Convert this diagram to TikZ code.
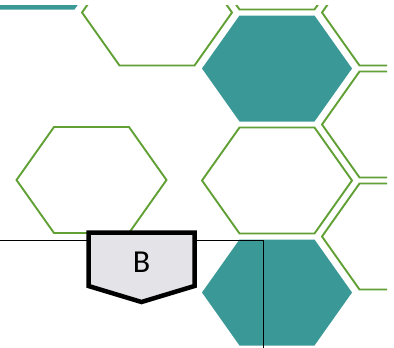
\documentclass[tikz,border=0pt]{standalone}
\usepackage{fontspec}
\setmainfont{Carlito}
\usepackage{tikz}
\usetikzlibrary{positioning}
\definecolor{cellteal}{RGB}{58,152,150}
\definecolor{cellgreen}{RGB}{96,160,52}
\definecolor{taggray}{RGB}{228,228,232}

\begin{document}
\begin{tikzpicture}[
    x=1pt,y=-1pt,
    hexcell/.style={draw=cellgreen,line width=1.9pt,line join=miter},
    hexfill/.style={fill=cellteal},
    ruleline/.style={black,line width=0.8pt},
    tagbox/.style={draw=black,fill=taggray,line width=4.5pt,line join=miter},
    tagtext/.style={font=\fontsize{32}{32}\selectfont,inner sep=0pt},
  ]
  \useasboundingbox (0,0) rectangle (394,348);
  \begin{scope}
    \clip (0,5) rectangle (387,348);
    % teal cells
    \foreach \cx/\cy in {37/-43.5,277/68.5,277/292.5}
      \fill[hexfill] (\cx,\cy) ++(-75,0) -- ++(37.5,-53) -- ++(75,0)
        -- ++(37.5,53) -- ++(-37.5,53) -- ++(-75,0) -- cycle;
    % outlined cells
    \foreach \cx/\cy in {157/12.5,277/-43.5,277/180.5,397/12.5,
                         397/124.5,397/236.5,91.5/180}
      \draw[hexcell] (\cx,\cy) ++(-75,0) -- ++(37.5,-53) -- ++(75,0)
        -- ++(37.5,53) -- ++(-37.5,53) -- ++(-75,0) -- cycle;
  \end{scope}
  \coordinate (ruleleft) at (0,240);
  \coordinate (rulecorner) at (263,240);
  \coordinate (rulefoot) at (263,348);
  \draw[ruleline] (ruleleft) -- (rulecorner) -- (rulefoot);
  \draw[tagbox] (88.5,232.5) -- (194.5,232.5) -- (194.5,286)
    -- (141.5,302) -- (88.5,286) -- cycle;
  \node[tagtext] (tagb) at (141.5,262.5) {B};
\end{tikzpicture}
\end{document}
